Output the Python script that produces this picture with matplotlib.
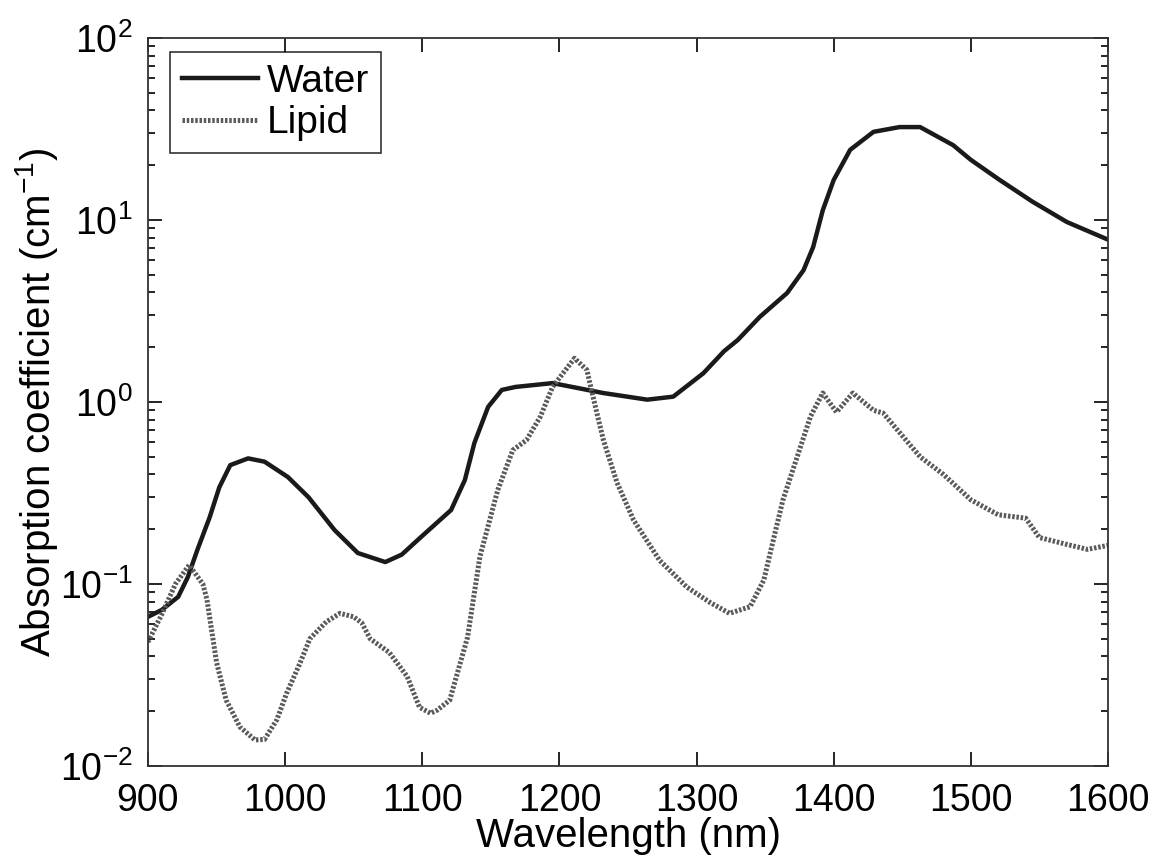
import numpy as np
import matplotlib
matplotlib.use('Agg')
import matplotlib.pyplot as plt

plt.rcParams['font.family'] = ['Liberation Sans', 'DejaVu Sans']
plt.rcParams['mathtext.fontset'] = 'custom'
plt.rcParams['mathtext.rm'] = 'Liberation Sans'
plt.rcParams['mathtext.it'] = 'Liberation Sans'

''' data read off the picture '''
water_wl = [900, 910, 922, 929, 936, 945, 952, 960, 973, 985, 1002, 1017, 1036, 1053,
            1073, 1085, 1099, 1121, 1131, 1138, 1148, 1158, 1168, 1195, 1232, 1264,
            1283, 1305, 1320, 1330, 1346, 1366, 1378, 1385, 1392, 1400, 1412, 1429, 1448,
            1463, 1487, 1500, 1521, 1545, 1570, 1600]
water_abs = [0.066, 0.072, 0.085, 0.109, 0.154, 0.233, 0.34, 0.45, 0.49, 0.47, 0.387,
             0.30, 0.198, 0.148, 0.132, 0.145, 0.181, 0.255, 0.372, 0.596, 0.94, 1.165,
             1.21, 1.27, 1.12, 1.03, 1.07, 1.44, 1.9, 2.19, 2.93, 3.97, 5.3, 7.1, 11.3,
             16.6, 24.3, 30.5, 32.4, 32.4, 25.8, 21.4, 16.6, 12.6, 9.75, 7.8]

lipid_wl = [900, 910, 920, 930, 940, 943, 950, 957, 967, 978, 985, 994, 1001, 1011, 1018,
            1030, 1040, 1050, 1056, 1062, 1076, 1089, 1098, 1106, 1111, 1120, 1133, 1142,
            1155, 1166, 1176, 1186, 1195, 1211, 1220, 1225, 1232, 1242, 1254, 1273, 1293,
            1310, 1324, 1339, 1349, 1356, 1363, 1373, 1383, 1392, 1402, 1414, 1429, 1436,
            1448, 1463, 1480, 1500, 1520, 1540, 1550, 1570, 1585, 1600]
lipid_abs = [0.048, 0.068, 0.1, 0.127, 0.10, 0.082, 0.037, 0.023, 0.0164, 0.0139, 0.014,
             0.018, 0.025, 0.037, 0.05, 0.062, 0.069, 0.066, 0.061, 0.05, 0.042, 0.031,
             0.021, 0.0195, 0.0203, 0.023, 0.051, 0.141, 0.328, 0.544, 0.618, 0.828, 1.21,
             1.74, 1.5, 1.03, 0.62, 0.36, 0.225, 0.135, 0.096, 0.079, 0.069, 0.075, 0.105,
             0.175, 0.29, 0.49, 0.83, 1.12, 0.88, 1.12, 0.90, 0.87, 0.68, 0.50, 0.40, 0.29,
             0.24, 0.23, 0.18, 0.165, 0.155, 0.163]

xticks = [900, 1000, 1100, 1200, 1300, 1400, 1500, 1600]

''' plot '''
fig = plt.figure(figsize=(11.62, 8.59), dpi=100)
ax = fig.add_axes([148 / 1162, 1 - 766 / 859, 960 / 1162, 728 / 859])

ax.semilogy(water_wl, water_abs, color='#1a1a1a', lw=3.2, label='Water')
ax.semilogy(lipid_wl, lipid_abs, color='#5a5a5a', lw=3.6, linestyle=(0, (0.5, 0.35)),
            label='Lipid')

ax.set_xlim(900, 1600)
ax.set_ylim(1e-2, 1e2)
ax.set_xticks(xticks)
ax.set_xticklabels([str(t) for t in xticks])
ax.tick_params(which='both', direction='in', top=True, right=True, labelsize=27, width=1.2)
ax.tick_params(which='major', length=10)
ax.tick_params(which='minor', length=5)
ax.tick_params(axis='x', pad=12)
ax.tick_params(axis='y', pad=11)
for sp in ax.spines.values():
    sp.set_linewidth(1.3)
    sp.set_color('#333333')

ax.set_xlabel('Wavelength (nm)', fontsize=29, labelpad=-1)
ax.set_ylabel('Absorption coefficient (cm$^{-1}$)', fontsize=29, labelpad=0)

leg = ax.legend(loc='upper left', bbox_to_anchor=(22 / 960, 1 - 14 / 728), borderaxespad=0,
                fontsize=28, frameon=True, fancybox=False, edgecolor='black',
                handlelength=1.95, handletextpad=0.25, labelspacing=0.15, borderpad=0.3)
leg.get_frame().set_linewidth(1.2)

fig.savefig('out.png', dpi=100)
